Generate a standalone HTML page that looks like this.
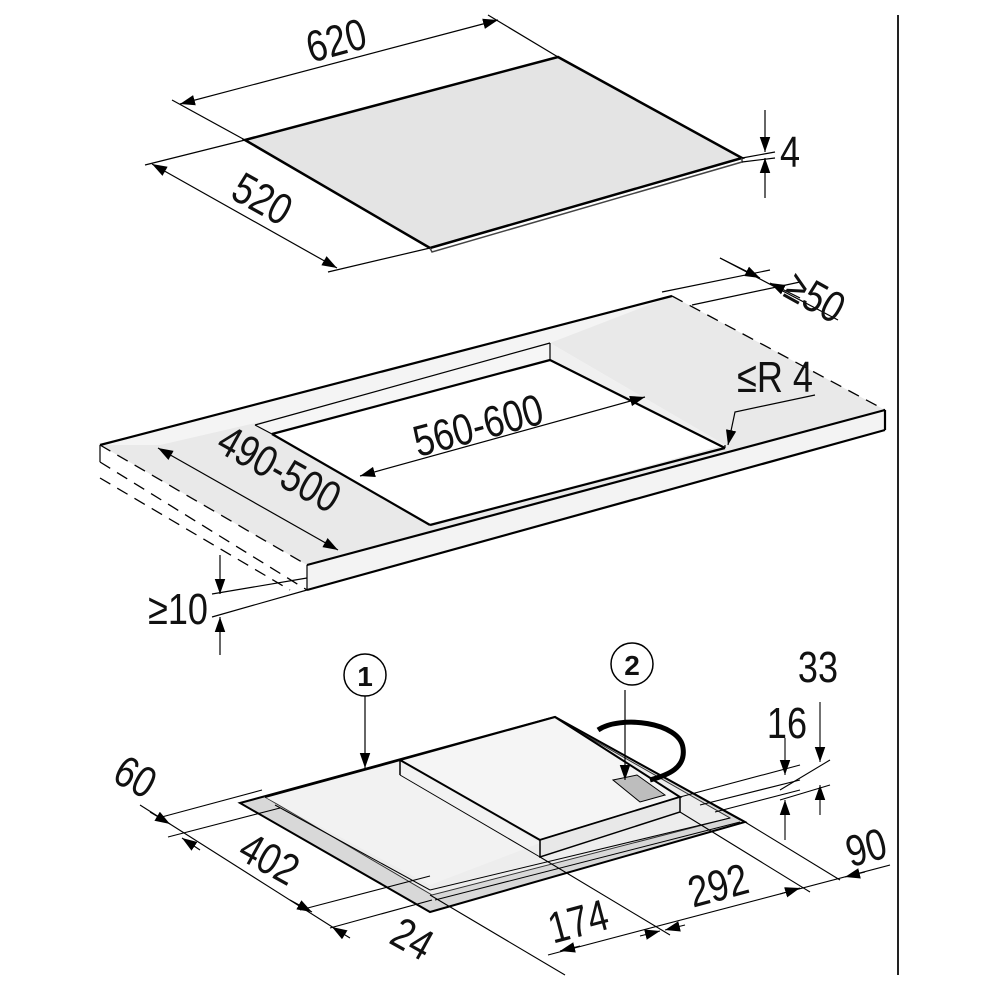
<!DOCTYPE html>
<html><head><meta charset="utf-8"><style>
html,body{margin:0;padding:0;background:#fff}
svg{display:block}
text{font-family:"Liberation Sans",sans-serif;fill:#111}
</style></head><body>
<svg width="1000" height="1000" viewBox="0 0 1000 1000" xmlns="http://www.w3.org/2000/svg">
<defs>
<marker id="a" viewBox="0 0 10 10" refX="10" refY="5" markerWidth="15" markerHeight="15" markerUnits="userSpaceOnUse" orient="auto-start-reverse"><path d="M0,1.5 L10,5 L0,8.5 z" fill="#000"/></marker>
</defs>
<line x1="898" y1="15" x2="898" y2="975" stroke="#222" stroke-width="2"/>

<!-- TOP GLASS -->
<polygon points="245,140 558,57 742,158 430,248" fill="#e4e4e4" stroke="#000" stroke-width="2.5"/>
<polyline points="430,248 432,252 742,162 742,158" fill="none" stroke="#444" stroke-width="1.5"/>
<g stroke="#000" stroke-width="1.2" fill="none">
<line x1="245" y1="140" x2="172" y2="100"/>
<line x1="558" y1="57" x2="488" y2="15"/>
<line x1="180" y1="104" x2="498" y2="20" marker-start="url(#a)" marker-end="url(#a)"/>
<line x1="245" y1="140" x2="145" y2="165"/>
<line x1="430" y1="248" x2="328" y2="272"/>
<line x1="152" y1="164" x2="337" y2="268" marker-start="url(#a)" marker-end="url(#a)"/>
<line x1="742" y1="158" x2="775" y2="152"/>
<line x1="742" y1="162" x2="775" y2="158"/>
<line x1="765" y1="110" x2="765" y2="152" marker-end="url(#a)"/>
<line x1="765" y1="198" x2="765" y2="158" marker-end="url(#a)"/>
</g>
<g font-size="44" text-anchor="middle">
<text transform="translate(340 55) rotate(-15) scale(.82 1)">620</text>
<text transform="translate(255 212) rotate(29) scale(.82 1)">520</text>
<text transform="translate(790 167) scale(.82 1)">4</text>
</g>

<!-- COUNTERTOP -->
<polygon points="100,445 672,296 885,410 307,565" fill="#e9e9e9"/>
<polygon points="307,565 885,410 885,430 307,590" fill="#f3f3f3"/>
<polygon points="255,425 550,343 725,445 430,525" fill="#fff"/>
<polygon points="255,425 550,343 550,360 272,434" fill="#f6f6f6"/>
<polygon points="550,343 725,445 725,448 550,360" fill="#f0f0f0"/>
<polygon points="290,415 550,343 672,296 100,445 160,445" fill="#f4f4f4"/>
<g stroke="#000" stroke-width="2.2" fill="none">
<line x1="100" y1="445" x2="672" y2="296"/>
<line x1="307" y1="565" x2="885" y2="410"/>
<line x1="885" y1="410" x2="885" y2="430"/>
<line x1="307" y1="590" x2="885" y2="430"/>
<line x1="272" y1="434" x2="550" y2="360"/>
<line x1="272" y1="434" x2="430" y2="525"/>
<line x1="430" y1="525" x2="725" y2="448"/>
<line x1="550" y1="360" x2="725" y2="448"/>
</g>
<g stroke="#000" stroke-width="1.2" fill="none">
<line x1="255" y1="425" x2="550" y2="343"/>
<line x1="255" y1="425" x2="272" y2="434"/>
<line x1="550" y1="343" x2="550" y2="360"/>
<line x1="725" y1="445" x2="725" y2="448"/>
<line x1="307" y1="565" x2="307" y2="590"/>
<line x1="100" y1="445" x2="100" y2="462"/>
</g>
<g stroke="#000" stroke-width="1.3" fill="none" stroke-dasharray="12,8">
<line x1="672" y1="296" x2="885" y2="410"/>
<line x1="100" y1="445" x2="307" y2="565"/>
<line x1="100" y1="462" x2="307" y2="590"/>
<line x1="100" y1="478" x2="290" y2="590"/>
</g>
<g stroke="#000" stroke-width="1.2" fill="none">
<line x1="662" y1="292" x2="770" y2="270"/>
<line x1="692" y1="305" x2="800" y2="282"/>
<line x1="720" y1="258" x2="838" y2="320"/>
<line x1="720" y1="258" x2="760" y2="278" marker-end="url(#a)"/>
<line x1="800" y1="298" x2="770" y2="283" marker-end="url(#a)"/>
<line x1="360" y1="476" x2="645" y2="397" marker-start="url(#a)" marker-end="url(#a)"/>
<line x1="158" y1="448" x2="338" y2="550" marker-start="url(#a)" marker-end="url(#a)"/>
<polyline points="815,395 735,412 728,445" marker-end="url(#a)"/>
<line x1="220" y1="555" x2="220" y2="594" marker-end="url(#a)"/>
<line x1="220" y1="655" x2="220" y2="617" marker-end="url(#a)"/>
<line x1="212" y1="594" x2="307" y2="578"/>
<line x1="212" y1="617" x2="307" y2="590"/>
</g>
<g font-size="44" text-anchor="middle">
<text transform="translate(808 310) rotate(29) scale(.82 1)">≥50</text>
<text transform="translate(775 392) scale(.82 1)">≤R 4</text>
<text transform="translate(482 440) rotate(-15) scale(.82 1)">560-600</text>
<text transform="translate(272 482) rotate(29) scale(.82 1)">490-500</text>
<text transform="translate(178 624) scale(.82 1)">≥10</text>
</g>

<!-- BOTTOM HOB -->
<polygon points="240,803 555,717 745,822 430,912" fill="#d8d8d8" stroke="#000" stroke-width="2"/>
<polygon points="265,797 555,718 730,818 432,895" fill="#ededed" stroke="#333" stroke-width="1"/>
<polygon points="265,797 400,760 540,843 430,885" fill="#f2f2f2"/>
<polygon points="400,760 555,717 680,797 540,840" fill="#f5f5f5" stroke="#000" stroke-width="2"/>
<polygon points="540,840 680,797 680,812 540,857" fill="#e8e8e8" stroke="#000" stroke-width="1.5"/>
<polygon points="613,780 637,775 665,795 640,802" fill="#bdbdbd" stroke="#000" stroke-width="1"/>
<g stroke="#000" fill="none">
<line x1="265" y1="797" x2="400" y2="760" stroke-width="2.2"/>
<line x1="400" y1="760" x2="400" y2="775" stroke-width="1.5"/>
<line x1="400" y1="775" x2="540" y2="857" stroke-width="1"/>
<line x1="275" y1="805" x2="430" y2="890" stroke-width="1"/>
<line x1="430" y1="890" x2="730" y2="818" stroke-width="1"/>
<line x1="435" y1="900" x2="740" y2="822" stroke-width="1"/>
<line x1="555" y1="717" x2="740" y2="820" stroke-width="1"/>
<path d="M598,730 C620,715 680,722 683,748 C686,768 668,775 650,780" stroke-width="5"/>
<line x1="625" y1="690" x2="625" y2="780" stroke-width="1.2" marker-end="url(#a)"/>
<line x1="365" y1="690" x2="365" y2="768" stroke-width="1.2" marker-end="url(#a)"/>
</g>
<circle cx="365" cy="675" r="21" fill="#fff" stroke="#000" stroke-width="1.5"/>
<text x="365" y="686" font-size="28" font-weight="bold" text-anchor="middle">1</text>
<circle cx="632" cy="664" r="21" fill="#fff" stroke="#000" stroke-width="1.5"/>
<text x="632" y="675" font-size="28" font-weight="bold" text-anchor="middle">2</text>

<g stroke="#000" stroke-width="1.1" fill="none">
<line x1="140" y1="805" x2="345" y2="935"/>
<line x1="158" y1="818" x2="262" y2="790"/>
<line x1="168" y1="837" x2="280" y2="808"/>
<line x1="300" y1="910" x2="430" y2="876"/>
<line x1="330" y1="928" x2="432" y2="900"/>
<line x1="150" y1="812" x2="170" y2="824" marker-end="url(#a)"/>
<line x1="200" y1="850" x2="182" y2="838" marker-end="url(#a)"/>
<line x1="290" y1="900" x2="312" y2="912" marker-end="url(#a)"/>
<line x1="350" y1="938" x2="332" y2="927" marker-end="url(#a)"/>
<line x1="430" y1="895" x2="565" y2="975"/>
<line x1="540" y1="857" x2="670" y2="935"/>
<line x1="680" y1="812" x2="810" y2="892"/>
<line x1="745" y1="822" x2="840" y2="880"/>
<line x1="548" y1="955" x2="890" y2="865"/>
<line x1="580" y1="946" x2="560" y2="951" marker-end="url(#a)"/>
<line x1="640" y1="936" x2="660" y2="931" marker-end="url(#a)"/>
<line x1="685" y1="925" x2="665" y2="930" marker-end="url(#a)"/>
<line x1="780" y1="894" x2="800" y2="888" marker-end="url(#a)"/>
<line x1="865" y1="872" x2="845" y2="877" marker-end="url(#a)"/>
<line x1="680" y1="797" x2="800" y2="765"/>
<line x1="700" y1="805" x2="800" y2="780"/>
<line x1="715" y1="812" x2="800" y2="790"/>
<line x1="780" y1="790" x2="830" y2="760"/>
<line x1="780" y1="800" x2="830" y2="785"/>
<line x1="785" y1="738" x2="785" y2="775" marker-end="url(#a)"/>
<line x1="785" y1="840" x2="785" y2="800" marker-end="url(#a)"/>
<line x1="820" y1="702" x2="820" y2="762" marker-end="url(#a)"/>
<line x1="820" y1="815" x2="820" y2="785" marker-end="url(#a)"/>
</g>
<g font-size="44" text-anchor="middle">
<text transform="translate(128 790) rotate(29) scale(.82 1)">60</text>
<text transform="translate(262 872) rotate(29) scale(.82 1)">402</text>
<text transform="translate(405 952) rotate(29) scale(.82 1)">24</text>
<text transform="translate(582 936) rotate(-15) scale(.82 1)">174</text>
<text transform="translate(722 900) rotate(-15) scale(.82 1)">292</text>
<text transform="translate(870 862) rotate(-15) scale(.82 1)">90</text>
<text transform="translate(787 738) scale(.82 1)">16</text>
<text transform="translate(818 682) scale(.82 1)">33</text>
</g>
</svg>
</body></html>
